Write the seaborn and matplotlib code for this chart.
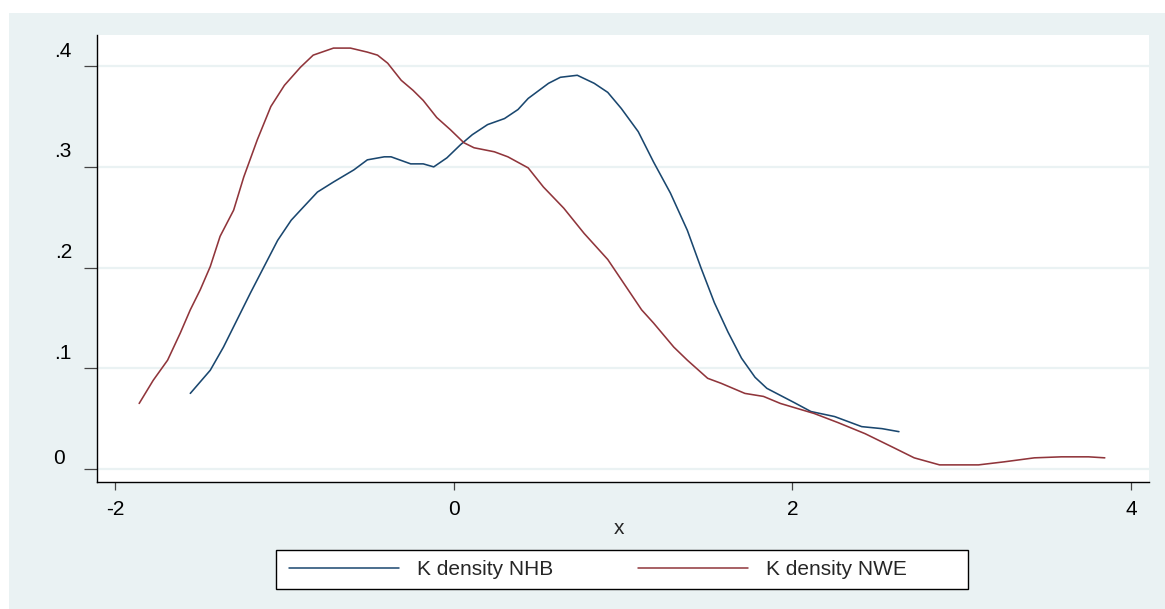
import numpy as np
import pandas as pd
import matplotlib
matplotlib.use("Agg")
import matplotlib.pyplot as plt
import matplotlib.transforms as mtrans
import seaborn as sns
from matplotlib.lines import Line2D
from matplotlib.patches import Rectangle

# ---- data ----
nhb_x = [-1.556, -1.438, -1.36, -1.28, -1.20, -1.12, -1.04, -0.96, -0.905, -0.805,
         -0.71, -0.59, -0.51, -0.41, -0.37, -0.254, -0.18, -0.118, -0.04, 0.04,
         0.11, 0.20, 0.30, 0.38, 0.44, 0.56, 0.63, 0.73, 0.83, 0.91,
         0.99, 1.09, 1.18, 1.28, 1.38, 1.46, 1.54, 1.62, 1.70, 1.78,
         1.85, 1.93, 2.01, 2.11, 2.25, 2.41, 2.53, 2.63]
nhb_y = [0.075, 0.098, 0.121, 0.148, 0.175, 0.201, 0.227, 0.247, 0.257, 0.275,
         0.285, 0.297, 0.307, 0.310, 0.310, 0.303, 0.303, 0.300, 0.309, 0.322,
         0.332, 0.342, 0.348, 0.357, 0.368, 0.383, 0.389, 0.391, 0.383, 0.374,
         0.358, 0.335, 0.305, 0.274, 0.237, 0.200, 0.165, 0.136, 0.110, 0.091,
         0.080, 0.073, 0.066, 0.057, 0.052, 0.042, 0.040, 0.037]

nwe_x = [-1.858, -1.775, -1.69, -1.615, -1.556, -1.497, -1.438, -1.38, -1.30, -1.24,
         -1.16, -1.08, -1.00, -0.905, -0.83, -0.71, -0.61, -0.51, -0.45, -0.39,
         -0.31, -0.24, -0.18, -0.10, -0.02, 0.06, 0.12, 0.24, 0.32, 0.44,
         0.53, 0.65, 0.77, 0.91, 0.99, 1.11, 1.18, 1.30, 1.38, 1.50,
         1.58, 1.72, 1.83, 1.93, 2.13, 2.27, 2.43, 2.60, 2.72, 2.87,
         3.10, 3.25, 3.43, 3.59, 3.75, 3.846]
nwe_y = [0.065, 0.088, 0.108, 0.135, 0.158, 0.178, 0.201, 0.231, 0.257, 0.290,
         0.327, 0.360, 0.381, 0.399, 0.411, 0.418, 0.418, 0.414, 0.411, 0.403,
         0.386, 0.376, 0.366, 0.349, 0.337, 0.324, 0.319, 0.315, 0.310, 0.299,
         0.280, 0.259, 0.234, 0.208, 0.188, 0.158, 0.145, 0.121, 0.108, 0.090,
         0.085, 0.075, 0.072, 0.065, 0.055, 0.046, 0.035, 0.021, 0.011, 0.004,
         0.004, 0.007, 0.011, 0.012, 0.012, 0.011]

series_names = ["K density NHB", "K density NWE"]
x_ticks = [-2, 0, 2, 4]
x_tick_labels = ["-2", "0", "2", "4"]
y_ticks = [0, 0.1, 0.2, 0.3, 0.4]
y_tick_labels = ["0", ".1", ".2", ".3", ".4"]
x_label = "x"

# ---- style ----
BG = "#eaf2f3"
NAVY = "#1a476f"
MAROON = "#90353b"
FONT = "Liberation Sans"
TICK_FS = 15
LEG_FS = 15
XLAB_FS = 15

sns.set_style("white")
plt.rcParams["font.family"] = [FONT, "DejaVu Sans"]

df = pd.concat([
    pd.DataFrame({"x": nhb_x, "density": nhb_y, "series": series_names[0]}),
    pd.DataFrame({"x": nwe_x, "density": nwe_y, "series": series_names[1]}),
])

W, H = 1165, 609
fig = plt.figure(figsize=(W / 100, H / 100), dpi=100)
fig.patch.set_facecolor("white")
fig.patches.append(Rectangle((9 / W, 0), 1 - 9 / W, 1 - 13 / H,
                             transform=fig.transFigure, facecolor=BG,
                             edgecolor="none", zorder=-10))

ax = fig.add_axes([97 / W, 1 - 482 / H, (1149 - 97) / W, (482 - 35) / H])
ax.set_facecolor("white")

palette = {series_names[0]: NAVY, series_names[1]: MAROON}
sns.lineplot(data=df, x="x", y="density", hue="series", palette=palette,
             ax=ax, linewidth=1.15, legend=False, sort=False)

ax.set_xlim(-2.107, 4.107)
ax.set_ylim(-0.013, 0.431)
ax.set_xticks(x_ticks)
ax.set_xticklabels(x_tick_labels)
ax.set_yticks(y_ticks)
ax.set_yticklabels(y_tick_labels)
ax.yaxis.grid(True, color=BG, linewidth=1.6)
ax.xaxis.grid(False)
ax.set_axisbelow(True)

for s in ["top", "right"]:
    ax.spines[s].set_visible(False)
for s in ["left", "bottom"]:
    ax.spines[s].set_color("black")
    ax.spines[s].set_linewidth(1.0)

ax.tick_params(axis="both", which="major", direction="out", width=0.9,
               color="#444444", labelsize=TICK_FS, labelcolor="black",
               left=True, bottom=True)
ax.tick_params(axis="y", length=9.4, pad=8.6)
ax.tick_params(axis="x", length=5.8, pad=7.0)

# Stata-like placement of the y labels (sit above their ticks)
for lab in ax.get_yticklabels():
    if lab.get_text() == "0":
        dx, dy = -7, 12
    else:
        dx, dy = 0, 17
    lab.set_transform(lab.get_transform() +
                      mtrans.ScaledTranslation(dx / 100, dy / 100,
                                               fig.dpi_scale_trans))

ax.set_xlabel(x_label, fontsize=XLAB_FS)
ax.xaxis.set_label_coords((619 - 97) / 1052, (482 - 534) / 447)
ax.xaxis.label.set_va("baseline")
ax.set_ylabel("")

# legend frame drawn separately, entries laid out inside it
fig.patches.append(Rectangle((276 / W, 1 - 589 / H), 692 / W, 39 / H,
                             transform=fig.transFigure, facecolor="white",
                             edgecolor="black", linewidth=1.0, zorder=1))
handles = [Line2D([], [], color=NAVY, lw=1.1),
           Line2D([], [], color=MAROON, lw=1.1)]
leg = fig.legend(handles, series_names, loc="center left",
                 bbox_to_anchor=(289 / W, 1 - 569.5 / H),
                 ncol=2, fontsize=LEG_FS, frameon=False,
                 handlelength=5.28, handletextpad=0.85, columnspacing=4.1,
                 borderaxespad=0, borderpad=0)
leg.set_zorder(2)

fig.savefig("out.png", dpi=100, facecolor=fig.get_facecolor())
